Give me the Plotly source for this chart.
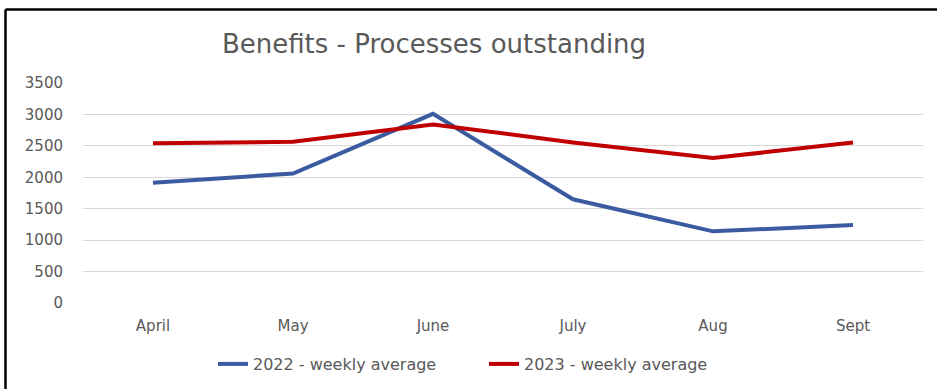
import plotly.graph_objects as go

months = ["April", "May", "June", "July", "Aug", "Sept"]
y2022 = [1915, 2060, 3010, 1650, 1140, 1240]
y2023 = [2540, 2565, 2840, 2555, 2305, 2555]
name2022 = "2022 - weekly average"
name2023 = "2023 - weekly average"
title_text = "Benefits - Processes outstanding"

W, H = 937, 389
ml, mr, mt, mb = 83, 14, 83, 86
pw = W - ml - mr
ph = H - mt - mb

def px(x):
    return (x - ml) / pw

def py(y):
    return (H - mb - y) / ph

font_fam = "DejaVu Sans, sans-serif"
gray = "#595959"

fig = go.Figure()
fig.add_trace(go.Scatter(x=months, y=y2022, mode="lines", name=name2022,
                         line=dict(color="#3A5BA0", width=4)))
fig.add_trace(go.Scatter(x=months, y=y2023, mode="lines", name=name2023,
                         line=dict(color="#C00000", width=4)))

fig.update_layout(
    width=W, height=H,
    margin=dict(l=ml, r=mr, t=mt, b=mb, autoexpand=False),
    paper_bgcolor="white", plot_bgcolor="white",
    font=dict(family=font_fam, color=gray, size=15),
    title=dict(text=title_text, xref="container", x=434 / W, xanchor="center",
               yref="container", y=1 - 44 / H, yanchor="middle",
               font=dict(size=26, color=gray, family=font_fam)),
    showlegend=True,
    legend=dict(orientation="h", x=px(213), xanchor="left", y=py(364), yanchor="middle",
                font=dict(size=16, color=gray), tracegroupgap=0,
                entrywidth=226, entrywidthmode="pixels", itemwidth=30,
                bgcolor="rgba(0,0,0,0)"),
    xaxis=dict(range=[-0.5, 5.5], showgrid=False, showline=False, zeroline=False, ticks="",
               tickfont=dict(size=15, color=gray), ticklabelstandoff=12),
    yaxis=dict(range=[0, 3500], dtick=500, tick0=0, showgrid=True, gridcolor="#D9D9D9",
               gridwidth=1, zeroline=False, showline=False, ticks="",
               tickfont=dict(size=15, color=gray), ticklabelstandoff=19),
    shapes=[
        dict(type="line", xref="paper", yref="paper", x0=px(5.5), x1=px(940), y0=py(9.5), y1=py(9.5),
             line=dict(color="black", width=2.5)),
        dict(type="line", xref="paper", yref="paper", x0=px(5.5), x1=px(5.5), y0=py(9.5), y1=py(392),
             line=dict(color="black", width=2.5)),
    ],
)

fig.write_html("out.html", config={"displayModeBar": False},
               post_script="document.body.style.margin='0';")
